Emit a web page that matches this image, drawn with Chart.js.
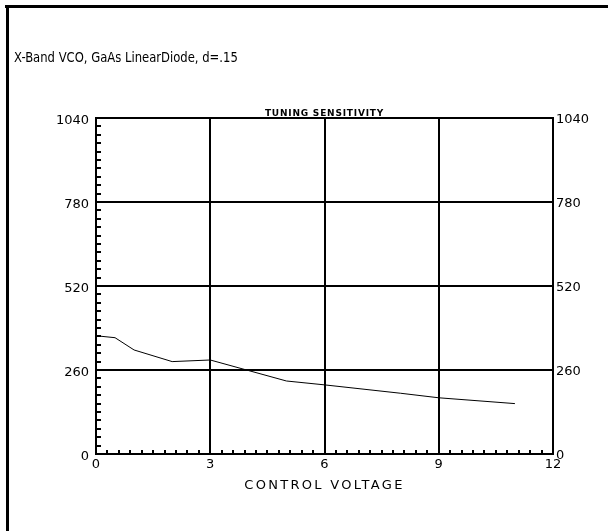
<!DOCTYPE html>
<html>
<head>
<meta charset="utf-8">
<style>
html,body{margin:0;padding:0;background:#fff;}
#c{display:block;}
</style>
<script src="https://cdn.jsdelivr.net/npm/chart.js@4/dist/chart.umd.min.js"></script>
</head>
<body>
<canvas id="c" width="608" height="531"></canvas>
<script>
const voltages = [0, 0.5, 1, 2, 3, 5, 6, 8, 9, 11];
const sensitivity = [366, 360, 322, 286, 291, 226, 214, 188, 174, 156];
const xTicks = [0, 3, 6, 9, 12];
const yTicks = [0, 260, 520, 780, 1040];
const mainTitle = "X-Band VCO, GaAs LinearDiode, d=.15";
const plotTitle = "TUNING SENSITIVITY";
const xTitle = "CONTROL VOLTAGE";

const FONT = "'DejaVu Sans', sans-serif";

const decor = {
  id: 'decor',
  beforeDraw(chart) {
    const ctx = chart.ctx;
    ctx.save();
    ctx.fillStyle = '#fff';
    ctx.fillRect(0, 0, chart.width, chart.height);
    ctx.fillStyle = '#000';
    ctx.fillRect(5, 5, chart.width - 5, 3);
    ctx.fillRect(6, 5, 3, chart.height - 5);
    ctx.restore();
  },
  afterDraw(chart) {
    const ctx = chart.ctx;
    const xs = chart.scales.x, ys = chart.scales.y;
    const a = chart.chartArea;
    ctx.save();
    ctx.fillStyle = '#000';
    for (let i = 1; i < 40; i++) {
      const px = Math.round(xs.getPixelForValue(i * 0.3));
      ctx.fillRect(px - 1, a.bottom - 4, 2, 4);
    }
    for (let i = 1; i < 40; i++) {
      const py = Math.round(ys.getPixelForValue(i * 26));
      ctx.fillRect(a.left, py - 1, 5, 2);
    }
    ctx.textBaseline = 'alphabetic';
    ctx.textAlign = 'left';
    ctx.font = "13.5px " + FONT;
    ctx.letterSpacing = '0px';
    ctx.save();
    ctx.translate(14, 62);
    ctx.scale(0.86, 1);
    ctx.fillText(mainTitle, 0, 0);
    ctx.restore();

    ctx.textAlign = 'center';
    ctx.font = "bold 9px " + FONT;
    ctx.letterSpacing = '0.8px';
    ctx.fillText(plotTitle, (a.left + a.right) / 2, 116);

    ctx.font = "13px " + FONT;
    ctx.letterSpacing = '2.3px';
    ctx.fillText(xTitle, (a.left + a.right) / 2, 489);
    ctx.restore();
  }
};

const plain = v => String(v);

new Chart(document.getElementById('c'), {
  type: 'scatter',
  data: {
    datasets: [{
      data: voltages.map((v, i) => ({x: v, y: sensitivity[i]})),
      showLine: true,
      borderColor: '#000',
      borderWidth: 1,
      pointRadius: 0,
      tension: 0,
      fill: false
    }]
  },
  options: {
    responsive: false,
    animation: false,
    devicePixelRatio: 1,
    layout: { padding: { top: 118, left: 0, right: 0, bottom: 0 } },
    plugins: { legend: { display: false }, tooltip: { enabled: false }, title: { display: false } },
    scales: {
      x: {
        type: 'linear', position: 'bottom', min: 0, max: 12,
        afterBuildTicks(s) { s.ticks = xTicks.map(v => ({value: v})); },
        afterFit(s) { s.height = 77; },
        ticks: { color: '#000', font: { family: FONT, size: 13 }, padding: 3, maxRotation: 0, autoSkip: false, callback: plain },
        grid: { color: '#000', lineWidth: 2, drawTicks: false },
        border: { color: '#000', width: 2 }
      },
      y: {
        type: 'linear', position: 'left', min: 0, max: 1040,
        afterBuildTicks(s) { s.ticks = yTicks.map(v => ({value: v})); },
        afterFit(s) { s.width = 96; },
        ticks: { color: '#000', font: { family: FONT, size: 13 }, padding: 7, labelOffset: 3, autoSkip: false, callback: plain },
        grid: { color: '#000', lineWidth: 2, drawTicks: false },
        border: { color: '#000', width: 2 }
      },
      y2: {
        type: 'linear', position: 'right', min: 0, max: 1040,
        afterBuildTicks(s) { s.ticks = yTicks.map(v => ({value: v})); },
        afterFit(s) { s.width = 55; },
        ticks: { color: '#000', font: { family: FONT, size: 13 }, padding: 3, labelOffset: 2, autoSkip: false, callback: plain },
        grid: { display: false, drawTicks: false },
        border: { color: '#000', width: 2 }
      }
    }
  },
  plugins: [decor]
});
</script>
</body>
</html>
